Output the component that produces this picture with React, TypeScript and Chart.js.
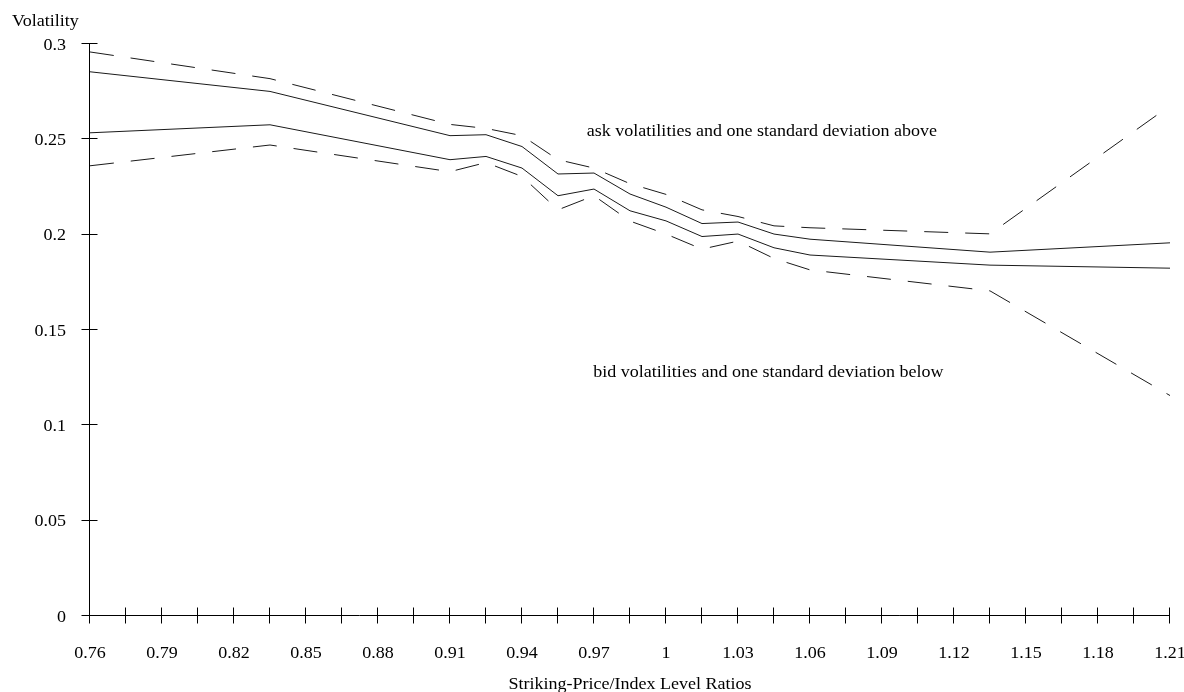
import React, { useEffect, useRef } from "react";
import { Chart, registerables } from "chart.js";

Chart.register(...registerables);

// ---- data ----
const strikeRatios = [0.76, 0.835, 0.91, 0.925, 0.94, 0.955, 0.97, 0.985, 1.0, 1.015, 1.03, 1.045, 1.06, 1.135, 1.21];
const askPlusSd = [0.2953, 0.2813, 0.2573, 0.2552, 0.2514, 0.2388, 0.2344, 0.2262, 0.2206, 0.2125, 0.209, 0.2041, 0.2031, 0.1999, 0.2671];
const askVol = [0.2849, 0.2746, 0.2514, 0.2519, 0.2457, 0.2313, 0.2318, 0.2208, 0.2139, 0.2053, 0.2061, 0.1998, 0.1971, 0.1903, 0.1952];
const bidVol = [0.2529, 0.2571, 0.2388, 0.2405, 0.2344, 0.2199, 0.2234, 0.212, 0.2067, 0.1985, 0.1998, 0.1926, 0.1888, 0.1835, 0.1819];
const bidMinusSd = [0.2356, 0.2465, 0.2325, 0.2373, 0.23, 0.2125, 0.2199, 0.2066, 0.1998, 0.1919, 0.1961, 0.187, 0.181, 0.17, 0.1151];

const xTickValues = [0.76, 0.79, 0.82, 0.85, 0.88, 0.91, 0.94, 0.97, 1.0, 1.03, 1.06, 1.09, 1.12, 1.15, 1.18, 1.21];
const xTickLabels = ["0.76", "0.79", "0.82", "0.85", "0.88", "0.91", "0.94", "0.97", "1", "1.03", "1.06", "1.09", "1.12", "1.15", "1.18", "1.21"];
const yTickValues = [0, 0.05, 0.1, 0.15, 0.2, 0.25, 0.3];
const yTickLabels = ["0", "0.05", "0.1", "0.15", "0.2", "0.25", "0.3"];

const yAxisTitle = "Volatility";
const xAxisTitle = "Striking-Price/Index Level Ratios";
const askNote = "ask volatilities and one standard deviation above";
const bidNote = "bid volatilities and one standard deviation below";
const askNotePos = [0.967, 0.251];
const bidNotePos = [0.9697, 0.125];

// ---- style ----
const FONT_SIZE = 17;
const TEXT_SX = 1.06;
const FONT = `${FONT_SIZE}px "Liberation Serif", "Times New Roman", serif`;
const LINE_COLOR = "#1a1a1a";
const DASH = [24, 17];

function drawText(ctx: CanvasRenderingContext2D, txt: string, x: number, y: number, align: CanvasTextAlign) {
  ctx.save();
  ctx.translate(x, y);
  ctx.scale(TEXT_SX, 1);
  ctx.textAlign = align;
  ctx.textBaseline = "alphabetic";
  ctx.fillText(txt, 0, 0);
  ctx.restore();
}

const axesPlugin = {
  id: "axesPlugin",
  afterDraw(chart: any) {
    const ctx: CanvasRenderingContext2D = chart.ctx;
    const xs = chart.scales.x;
    const ys = chart.scales.y;
    const xMin = xTickValues[0];
    const xMax = xTickValues[xTickValues.length - 1];
    const yMax = yTickValues[yTickValues.length - 1];
    const ax = Math.round(xs.getPixelForValue(xMin)) - 0.5;
    const ay = Math.round(ys.getPixelForValue(0)) + 0.5;
    const top = ys.getPixelForValue(yMax);
    const right = xs.getPixelForValue(xMax);

    ctx.save();
    ctx.strokeStyle = "#000";
    ctx.lineWidth = 1;
    ctx.setLineDash([]);
    ctx.beginPath();
    ctx.moveTo(ax, top);
    ctx.lineTo(ax, ay);
    ctx.moveTo(ax, ay);
    ctx.lineTo(right, ay);

    // x tick marks: labelled ones and mid ones
    const xMarks: number[] = [];
    for (let i = 0; i < xTickValues.length; i++) {
      xMarks.push(xTickValues[i]);
      if (i < xTickValues.length - 1) xMarks.push((xTickValues[i] + xTickValues[i + 1]) / 2);
    }
    for (const v of xMarks) {
      const px = Math.round(xs.getPixelForValue(v)) - 0.5;
      ctx.moveTo(px, ay - 8);
      ctx.lineTo(px, ay + 8);
    }
    for (const v of yTickValues) {
      const py = Math.round(ys.getPixelForValue(v)) + 0.5;
      ctx.moveTo(ax - 8, py);
      ctx.lineTo(ax + 8, py);
    }
    ctx.stroke();

    ctx.fillStyle = "#000";
    ctx.font = FONT;
    yTickValues.forEach((v, i) => {
      drawText(ctx, yTickLabels[i], ax - 23.5, ys.getPixelForValue(v) + 6.5, "right");
    });
    xTickValues.forEach((v, i) => {
      drawText(ctx, xTickLabels[i], xs.getPixelForValue(v), ay + 42, "center");
    });
    drawText(ctx, yAxisTitle, 12, 26, "left");
    drawText(ctx, xAxisTitle, (xs.left + xs.right) / 2, 689, "center");
    drawText(ctx, askNote, xs.getPixelForValue(askNotePos[0]), ys.getPixelForValue(askNotePos[1]), "left");
    drawText(ctx, bidNote, xs.getPixelForValue(bidNotePos[0]), ys.getPixelForValue(bidNotePos[1]), "left");
    ctx.restore();
  },
};

function series(values: number[], dashed: boolean) {
  return {
    data: strikeRatios.map((x, i) => ({ x, y: values[i] })),
    borderColor: LINE_COLOR,
    borderWidth: 1,
    borderDash: dashed ? DASH : [],
    pointRadius: 0,
    pointHoverRadius: 0,
    fill: false,
    tension: 0,
  };
}

export default function App() {
  const canvasRef = useRef<HTMLCanvasElement | null>(null);

  useEffect(() => {
    if (!canvasRef.current) return;
    const chart = new Chart(canvasRef.current, {
      type: "line",
      data: {
        datasets: [
          series(askPlusSd, true),
          series(askVol, false),
          series(bidVol, false),
          series(bidMinusSd, true),
        ],
      },
      options: {
        responsive: false,
        devicePixelRatio: 1,
        animation: false,
        events: [],
        layout: { padding: { left: 0, right: 14, top: 43, bottom: 0 } },
        plugins: {
          legend: { display: false },
          tooltip: { enabled: false },
          title: { display: false },
        },
        scales: {
          x: {
            type: "linear",
            min: 0.76,
            max: 1.21,
            grid: { display: false, drawTicks: false },
            border: { display: false },
            ticks: { display: false },
            afterFit: (s: any) => {
              s.height = 77;
            },
          },
          y: {
            type: "linear",
            min: 0,
            max: 0.3,
            grid: { display: false, drawTicks: false },
            border: { display: false },
            ticks: { display: false },
            afterFit: (s: any) => {
              s.width = 90;
            },
          },
        },
      } as any,
      plugins: [axesPlugin],
    });
    return () => chart.destroy();
  }, []);

  return (
    <div style={{ position: "fixed", left: 0, top: 0, width: 1184, height: 692, background: "#fff" }}>
      <canvas ref={canvasRef} width={1184} height={692} style={{ display: "block", width: 1184, height: 692 }} />
    </div>
  );
}
